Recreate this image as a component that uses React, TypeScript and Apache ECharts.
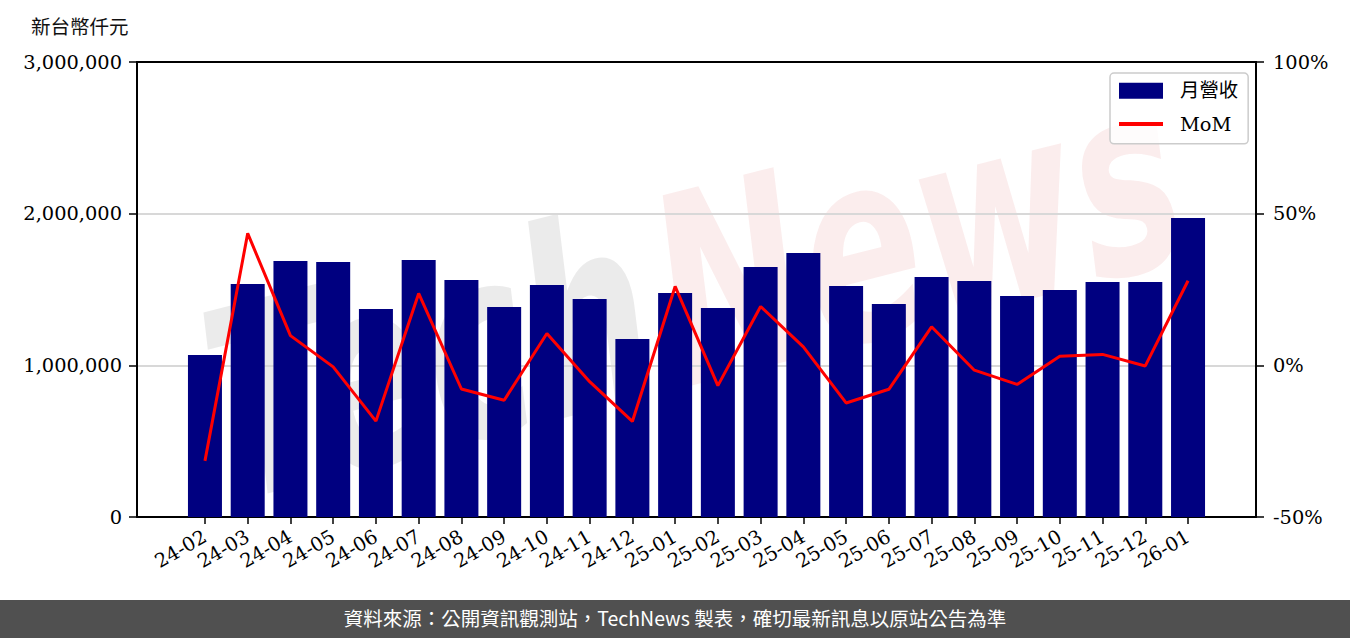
import React, { useEffect, useRef } from "react";
import * as echarts from "echarts";

const categories = [
  "24-02", "24-03", "24-04", "24-05", "24-06", "24-07", "24-08", "24-09",
  "24-10", "24-11", "24-12", "25-01", "25-02", "25-03", "25-04", "25-05",
  "25-06", "25-07", "25-08", "25-09", "25-10", "25-11", "25-12", "26-01",
];

// 月營收 (新台幣仟元)
const revenue = [
  1068000, 1536000, 1688000, 1681000, 1371000, 1694000, 1563000, 1385000,
  1530000, 1437000, 1174000, 1477000, 1378000, 1648000, 1741000, 1523000,
  1404000, 1582000, 1556000, 1457000, 1497000, 1549000, 1549000, 1971000,
];

// MoM (%)
const mom = [
  -31.5, 43.5, 9.8, -0.5, -18.4, 23.7, -7.8, -11.5,
  10.5, -5.4, -18.5, 26.0, -6.7, 19.4, 6.1, -12.4,
  -7.9, 12.7, -1.6, -6.3, 3.0, 3.6, -0.2, 27.9,
];

const unitLabel = "新台幣仟元";
const footerText = "資料來源：公開資訊觀測站，TechNews 製表，確切最新訊息以原站公告為準";

const SERIF = "'DejaVu Serif', 'Liberation Serif', serif";
const CJK = "'Noto Sans CJK TC', 'Noto Sans CJK SC', sans-serif";
const FS = 19.4;

export default function App() {
  const ref = useRef<HTMLDivElement>(null);

  useEffect(() => {
    if (!ref.current) return;
    const chart = echarts.init(ref.current, null, { renderer: "svg" });
    const idx = categories.map((_, i) => i);

    const option: any = {
      animation: false,
      backgroundColor: "#ffffff",
      grid: {
        left: 137,
        right: 94,
        top: 62,
        bottom: 121,
        containLabel: false,
        show: false,
      },
      legend: {
        orient: "vertical",
        left: 1110,
        top: 73,
        padding: [8, 10, 10, 7],
        itemWidth: 44,
        itemHeight: 16,
        itemGap: 14,
        backgroundColor: "rgba(255,255,255,0.8)",
        borderColor: "#cccccc",
        borderWidth: 1.5,
        borderRadius: 4,
        z: 10,
        textStyle: {
          fontFamily: `'DejaVu Serif', ${CJK}`,
          fontSize: FS,
          color: "#000",
          lineHeight: 16,
          padding: [0, 0, 0, 12],
        },
        data: [
          { name: "月營收", icon: "rect" },
          {
            name: "MoM",
            itemStyle: { opacity: 0 },
            lineStyle: { color: "#ff0000", width: 4 },
          },
        ],
      },
      xAxis: {
        type: "value",
        min: -1.59,
        max: 24.59,
        axisLine: { show: true, onZero: false, lineStyle: { color: "#000", width: 2 } },
        axisTick: {
          show: true,
          length: 7,
          lineStyle: { color: "#000", width: 1.5 },
          customValues: idx,
        },
        axisLabel: {
          show: true,
          customValues: idx,
          rotate: 30,
          margin: 18,
          fontFamily: SERIF,
          fontSize: FS,
          color: "#000",
          formatter: (v: number) => categories[Math.round(v)] ?? "",
        },
        splitLine: { show: false },
      },
      yAxis: [
        {
          type: "value",
          min: 0,
          max: 3000000,
          interval: 1000000,
          position: "left",
          axisLine: { show: true, onZero: false, lineStyle: { color: "#000", width: 2 } },
          axisTick: { show: true, length: 8, lineStyle: { color: "#000", width: 1.5 } },
          axisLabel: {
            margin: 15,
            fontFamily: SERIF,
            fontSize: FS,
            color: "#000",
            formatter: (v: number) => v.toLocaleString("en-US"),
          },
          splitLine: { show: true, lineStyle: { color: "#d8d8d8", width: 2 } },
        },
        {
          type: "value",
          min: -50,
          max: 100,
          interval: 50,
          position: "right",
          axisLine: { show: true, onZero: false, lineStyle: { color: "#000", width: 2 } },
          axisTick: { show: true, length: 8, lineStyle: { color: "#000", width: 1.5 } },
          axisLabel: {
            margin: 17,
            fontFamily: SERIF,
            fontSize: FS,
            color: "#000",
            formatter: (v: number) => `${v}%`,
          },
          splitLine: { show: false },
        },
      ],
      series: [
        {
          name: "月營收",
          type: "bar",
          yAxisIndex: 0,
          barWidth: 34,
          itemStyle: { color: "#000080" },
          data: revenue.map((v, i) => [i, v]),
          z: 2,
        },
        {
          name: "MoM",
          type: "line",
          yAxisIndex: 1,
          symbol: "none",
          lineStyle: { color: "#ff0000", width: 3 },
          itemStyle: { color: "#ff0000" },
          data: mom.map((v, i) => [i, v]),
          z: 4,
        },
      ],
      graphic: [
        {
          type: "group",
          x: 660,
          y: 300,
          rotation: 0.25,
          z: 5,
          silent: true,
          children: [
            {
              type: "text",
              x: -15,
              y: 0,
              scaleY: 1.5,
              style: {
                text: "Tech",
                fontSize: 175,
                lineHeight: 120,
                fontWeight: "bold",
                fontStyle: "italic",
                fontFamily: "'DejaVu Sans', sans-serif",
                fill: "rgba(0,0,0,0.08)",
                align: "right",
                verticalAlign: "middle",
                textAlign: "right",
                textVerticalAlign: "middle",
              },
            },
            {
              type: "text",
              x: 0,
              y: 0,
              scaleY: 1.5,
              style: {
                text: "News",
                fontSize: 175,
                lineHeight: 120,
                fontWeight: "bold",
                fontStyle: "italic",
                fontFamily: "'DejaVu Sans', sans-serif",
                fill: "rgba(210,30,30,0.08)",
                align: "left",
                verticalAlign: "middle",
                textAlign: "left",
                textVerticalAlign: "middle",
              },
            },
          ],
        },
        {
          type: "line",
          z: 8,
          silent: true,
          shape: { x1: 136, y1: 62, x2: 1257, y2: 62 },
          style: { stroke: "#000", lineWidth: 2 },
        },
        {
          type: "text",
          left: 31,
          top: 16,
          z: 10,
          style: {
            text: unitLabel,
            fontSize: 19.5,
            fontFamily: CJK,
            fill: "#111",
          },
        },
        {
          type: "rect",
          left: 0,
          top: 600,
          z: 10,
          shape: { width: 1350, height: 38 },
          style: { fill: "#505050" },
        },
        {
          type: "text",
          left: "center",
          top: 608,
          z: 11,
          style: {
            text: footerText,
            fontSize: 19.5,
            fontFamily: CJK,
            fill: "#ffffff",
          },
        },
      ],
    };

    chart.setOption(option);
    return () => chart.dispose();
  }, []);

  return (
    <div
      ref={ref}
      style={{ position: "fixed", left: 0, top: 0, width: 1350, height: 638 }}
    />
  );
}
